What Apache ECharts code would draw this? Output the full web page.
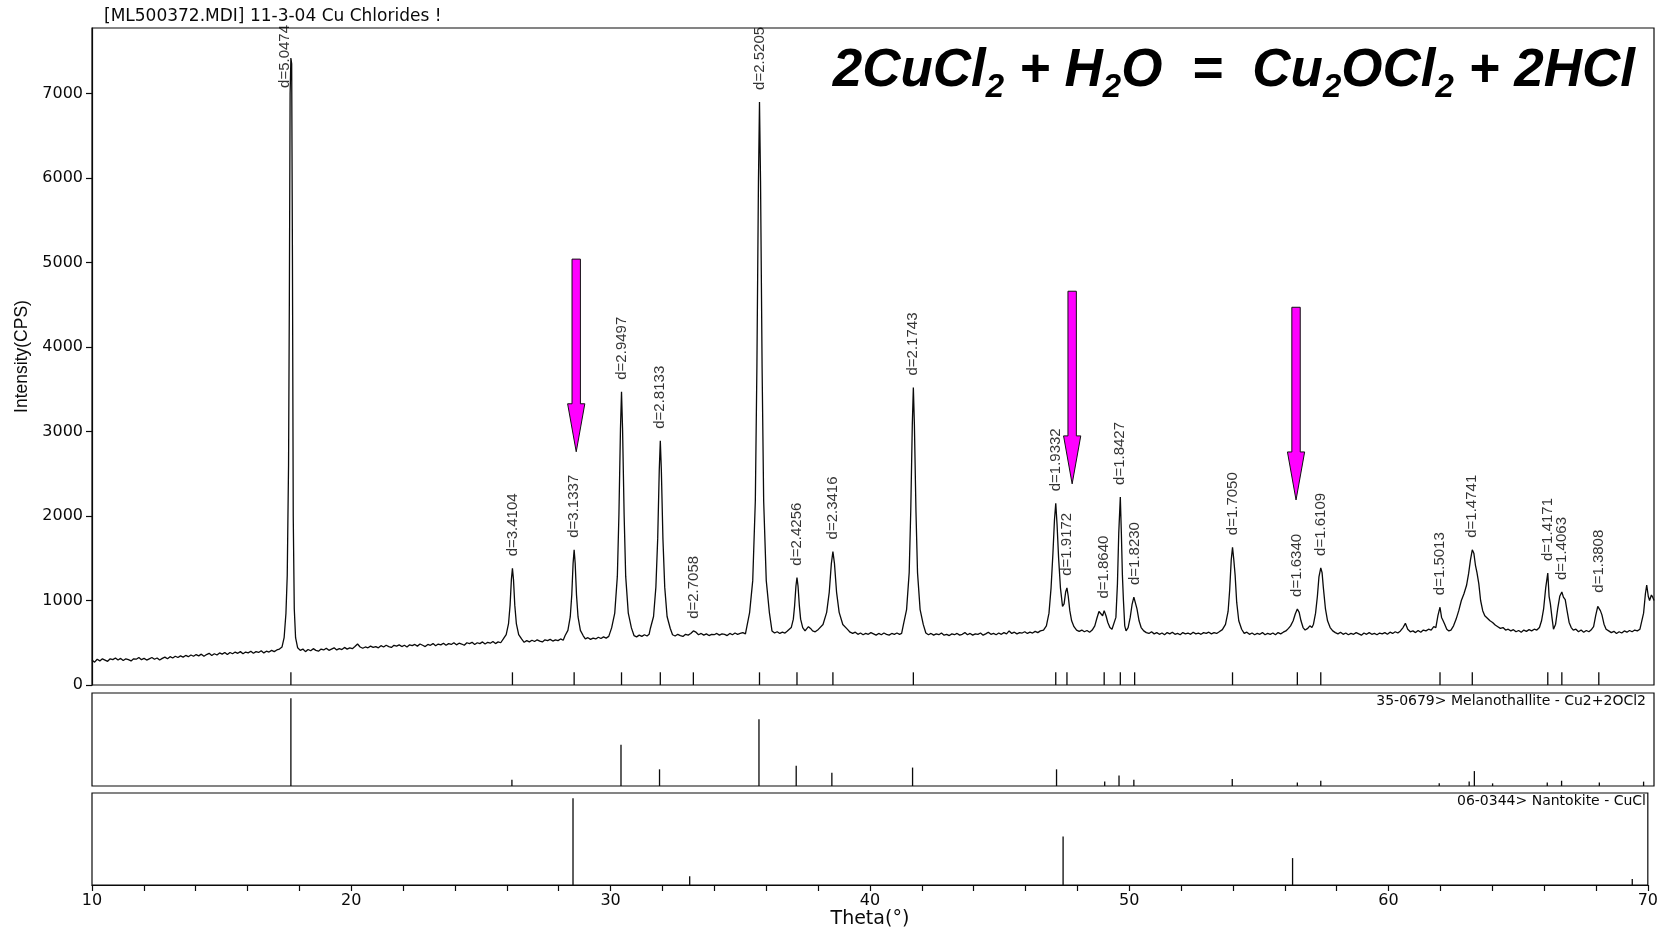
<!DOCTYPE html>
<html>
<head>
<meta charset="utf-8">
<script src="https://cdn.jsdelivr.net/npm/echarts@6/dist/echarts.min.js"></script>
<style>
html,body{margin:0;padding:0;background:#fff;}
#chart{width:1661px;height:930px;}
</style>
</head>
<body>
<div id="chart"></div>
<script>
// ---------------- DATA ----------------
const titleText = '[ML500372.MDI] 11-3-04 Cu Chlorides !';
const yTicks = [0, 1000, 2000, 3000, 4000, 5000, 6000, 7000];
const xTickLabels = [10, 20, 30, 40, 50, 60, 70];

// measured pattern: [2-theta, counts]
const spectrum = [
[10.0,295],[10.1,270],[10.2,305],[10.3,285],[10.4,310],[10.5,295],[10.6,280],[10.7,310],[10.8,300],[10.9,320],
[11.0,295],[11.1,315],[11.2,290],[11.3,310],[11.4,300],[11.5,285],[11.6,310],[11.7,305],[11.8,325],[11.9,300],
[12.0,315],[12.1,295],[12.2,310],[12.3,325],[12.4,305],[12.5,320],[12.6,295],[12.7,315],[12.8,330],[12.9,310],
[13.0,335],[13.1,320],[13.2,340],[13.3,325],[13.4,345],[13.5,330],[13.6,350],[13.7,335],[13.8,355],[13.9,340],
[14.0,360],[14.1,345],[14.2,365],[14.3,340],[14.4,360],[14.5,375],[14.6,350],[14.7,370],[14.8,355],[14.9,380],
[15.0,365],[15.1,385],[15.2,360],[15.3,385],[15.4,370],[15.5,390],[15.6,375],[15.7,395],[15.8,370],[15.9,390],
[16.0,380],[16.1,400],[16.2,375],[16.3,395],[16.4,385],[16.5,405],[16.6,380],[16.7,400],[16.8,390],[16.9,410],
[17.0,395],[17.1,415],[17.2,425],[17.3,450],[17.38,560],[17.45,850],[17.5,1300],[17.55,2600],[17.58,4500],[17.61,7000],
[17.64,7420],[17.67,7350],[17.7,5000],[17.73,2000],[17.77,900],[17.82,560],[17.9,440],
[18.0,410],[18.1,425],[18.2,395],[18.3,420],[18.4,405],[18.5,430],[18.6,410],[18.7,400],[18.8,425],[18.9,415],
[19.0,435],[19.1,410],[19.2,425],[19.3,440],[19.4,415],[19.5,430],[19.6,420],[19.7,445],[19.8,425],[19.9,440],
[20.0,430],[20.1,455],[20.2,485],[20.3,450],[20.4,435],[20.5,450],[20.6,440],[20.7,460],[20.8,445],[20.9,455],
[21.0,440],[21.1,465],[21.2,450],[21.3,470],[21.4,455],[21.5,445],[21.6,470],[21.7,460],[21.8,475],[21.9,455],
[22.0,470],[22.1,450],[22.2,475],[22.3,465],[22.4,480],[22.5,460],[22.6,485],[22.7,470],[22.8,455],[22.9,480],
[23.0,470],[23.1,490],[23.2,465],[23.3,485],[23.4,475],[23.5,495],[23.6,470],[23.7,490],[23.8,480],[23.9,500],
[24.0,475],[24.1,495],[24.2,485],[24.3,470],[24.4,500],[24.5,490],[24.6,505],[24.7,480],[24.8,500],[24.9,490],
[25.0,510],[25.1,485],[25.2,505],[25.3,495],[25.4,515],[25.5,490],[25.6,510],[25.7,500],[25.8,545],
[25.91,597],[26.0,727],[26.06,945],[26.11,1250],[26.15,1380],[26.19,1250],[26.24,945],[26.3,727],[26.39,597],[26.5,545],
[26.6,505],[26.7,525],[26.8,510],[26.9,530],[27.0,515],[27.1,535],[27.2,520],[27.3,510],[27.4,535],[27.5,525],
[27.6,540],[27.7,520],[27.8,535],[27.9,525],[28.0,545],[28.1,530],
[28.17,582],[28.28,646],[28.37,805],[28.43,1070],[28.48,1440],[28.52,1600],[28.56,1440],[28.61,1070],[28.67,805],[28.76,646],[28.87,582],
[28.95,545],[29.05,560],[29.15,540],[29.25,555],[29.35,545],[29.45,565],[29.55,550],[29.65,570],[29.75,555],[29.85,575],
[29.96,676],[30.08,851],[30.18,1288],[30.24,2015],[30.3,3034],[30.34,3470],[30.38,3034],[30.44,2015],[30.5,1288],[30.6,851],[30.72,676],
[30.82,585],[30.92,570],[31.02,590],[31.12,575],[31.22,595],[31.32,580],[31.4,600],
[31.45,672],[31.57,811],[31.66,1158],[31.73,1735],[31.79,2544],[31.83,2890],[31.87,2544],[31.93,1735],[32.0,1158],[32.09,811],[32.21,672],
[32.3,595],[32.4,580],[32.5,600],[32.6,585],[32.7,575],[32.8,600],[32.9,590],[33.0,610],[33.1,640],[33.2,625],
[33.3,595],[33.4,610],[33.5,590],[33.6,605],[33.7,585],[33.8,600],[33.9,595],[34.0,610],[34.1,590],[34.2,605],
[34.3,600],[34.4,585],[34.5,610],[34.6,595],[34.7,615],[34.8,600],[34.9,610],[35.0,620],[35.1,605],
[35.26,857],[35.38,1235],[35.48,2180],[35.54,3755],[35.6,5960],[35.64,6900],[35.68,5960],[35.74,3755],[35.8,2180],[35.9,1235],[36.02,857],
[36.12,640],[36.22,615],[36.32,630],[36.42,610],[36.52,625],[36.62,615],[36.7,635],
[36.77,641],[36.86,680],[36.94,779],[36.99,943],[37.04,1172],[37.08,1270],[37.12,1172],[37.17,943],[37.22,779],[37.3,680],[37.39,641],
[37.45,665],[37.52,690],[37.6,670],[37.68,640],[37.78,630],
[37.9,658],[38.08,716],[38.22,860],[38.32,1100],[38.4,1436],[38.46,1580],[38.52,1436],[38.6,1100],[38.7,860],[38.84,716],[39.02,658],
[39.12,625],[39.22,610],[39.32,625],[39.42,600],[39.52,615],[39.62,595],[39.72,610],[39.82,600],[39.92,620],[40.02,605],
[40.12,590],[40.22,610],[40.32,595],[40.42,615],[40.52,600],[40.62,590],[40.72,610],[40.82,600],[40.92,615],[41.02,600],[41.1,610],
[41.17,717],[41.29,892],[41.39,1330],[41.45,2060],[41.51,3082],[41.55,3520],[41.59,3082],[41.65,2060],[41.71,1330],[41.81,892],[41.93,717],
[42.03,615],[42.13,595],[42.23,610],[42.33,590],[42.43,605],[42.53,595],[42.63,615],[42.73,590],[42.83,600],[42.93,585],
[43.03,605],[43.13,595],[43.23,610],[43.33,590],[43.43,600],[43.53,620],[43.63,595],[43.73,610],[43.83,590],[43.93,605],
[44.03,600],[44.13,615],[44.23,590],[44.33,605],[44.43,625],[44.53,600],[44.63,610],[44.73,595],[44.83,615],[44.93,600],
[45.03,620],[45.13,605],[45.23,640],[45.33,610],[45.43,625],[45.53,605],[45.63,620],[45.73,615],[45.83,630],[45.93,610],
[46.03,625],[46.13,615],[46.23,635],[46.33,620],[46.43,640],
[46.55,650],[46.66,700],[46.76,850],[46.84,1150],[46.91,1550],[46.97,1950],[47.02,2150],[47.07,1900],[47.13,1500],[47.2,1150],
[47.28,930],[47.34,960],[47.4,1100],[47.45,1150],[47.5,1050],[47.56,880],[47.63,760],[47.72,690],[47.82,650],[47.92,635],
[48.02,650],[48.12,630],[48.22,645],[48.32,625],[48.42,650],[48.52,700],[48.6,790],[48.68,870],[48.75,850],[48.82,820],
[48.88,880],[48.95,820],[49.02,740],[49.1,680],[49.18,660],
[49.25,670],[49.33,800],[49.39,1200],[49.44,1800],[49.5,2225],[49.54,1800],[49.58,1300],[49.62,1000],[49.67,700],[49.72,640],
[49.8,680],[49.88,800],[49.95,950],[50.02,1040],[50.08,1020],[50.14,900],[50.22,760],[50.3,680],[50.4,640],[50.5,620],
[50.6,610],[50.7,630],[50.8,605],[50.9,620],[51.0,600],[51.1,615],[51.2,595],[51.3,620],[51.4,605],[51.5,625],
[51.6,600],[51.7,610],[51.8,595],[51.9,620],[52.0,605],[52.1,615],[52.2,600],[52.3,625],[52.4,605],[52.5,615],
[52.6,600],[52.7,620],[52.8,610],[52.9,625],[53.0,605],[53.1,620],[53.2,610],[53.3,630],
[53.42,655],[53.54,717],[53.64,870],[53.7,1122],[53.76,1478],[53.81,1630],[53.86,1480],[53.91,1300],[53.97,980],[54.05,760],[54.16,660],
[54.26,610],[54.36,625],[54.46,600],[54.56,615],[54.66,595],[54.76,610],[54.86,600],[54.96,620],[55.06,595],[55.16,610],
[55.26,600],[55.36,615],[55.46,595],[55.56,620],[55.66,605],[55.76,625],[55.86,640],[55.96,670],
[56.04,700],[56.14,760],[56.22,840],[56.3,900],[56.37,860],[56.44,760],[56.52,680],[56.6,650],[56.7,670],[56.78,700],[56.86,680],
[56.92,720],[57.0,850],[57.07,1050],[57.13,1280],[57.2,1385],[57.25,1330],[57.3,1150],[57.38,900],[57.46,760],[57.56,680],[57.66,640],
[57.76,620],[57.86,605],[57.96,625],[58.06,600],[58.16,615],[58.26,595],[58.36,610],[58.46,600],[58.56,620],[58.66,605],
[58.76,590],[58.86,615],[58.96,600],[59.06,620],[59.16,600],[59.26,610],[59.36,595],[59.46,615],[59.56,605],[59.66,620],
[59.76,600],[59.86,625],[59.96,610],[60.06,630],[60.16,615],[60.26,640],[60.36,680],[60.45,730],[60.54,660],[60.64,630],
[60.74,640],[60.84,620],[60.94,645],[61.04,625],[61.14,650],[61.24,640],[61.34,660],[61.44,650],[61.54,690],
[61.62,680],[61.7,820],[61.78,920],[61.84,800],[61.9,760],[61.96,720],[62.04,660],[62.12,640],[62.2,650],
[62.3,700],[62.4,780],[62.5,880],[62.6,1000],[62.7,1080],[62.8,1180],[62.88,1320],[62.95,1480],[63.02,1600],[63.08,1560],
[63.14,1420],[63.2,1330],[63.27,1200],[63.34,1000],[63.42,880],[63.5,820],[63.6,790],[63.7,760],[63.8,740],[63.9,710],
[64.0,690],[64.1,670],[64.2,680],[64.3,650],[64.4,660],[64.5,640],[64.6,655],[64.7,630],[64.8,645],[64.9,625],
[65.0,650],[65.1,635],[65.2,655],[65.3,640],[65.4,660],[65.5,650],[65.6,680],[65.68,760],
[65.76,900],[65.84,1150],[65.92,1325],[65.97,1050],[66.02,960],[66.08,800],[66.14,660],[66.22,720],[66.3,900],[66.38,1050],
[66.46,1100],[66.52,1040],[66.59,1010],[66.66,880],[66.74,740],[66.82,680],[66.9,650],[67.0,660],[67.1,630],[67.2,650],
[67.3,625],[67.4,645],[67.5,630],[67.58,650],[67.68,690],[67.76,820],[67.84,930],[67.88,950],[67.94,880],[68.0,830],
[68.08,720],[68.16,660],[68.26,640],[68.36,620],[68.46,635],[68.56,610],[68.66,630],[68.76,615],[68.86,640],[68.96,625],
[69.06,645],[69.16,630],[69.26,650],[69.36,640],[69.46,660],[69.53,680],[69.6,850],[69.67,1080],[69.72,1183],[69.78,1050],
[69.83,1000],[69.9,1065],[69.95,1040],[70.0,1000]
];

// labelled peaks
const peakTheta = [17.64, 26.15, 28.52, 30.34, 31.83, 33.1, 35.64, 37.08, 38.46, 41.55, 47.02, 47.45, 48.88, 49.5, 50.05, 53.81, 56.3, 57.2, 61.78, 63.02, 65.92, 66.46, 67.88];
const peakTop   = [7420, 1380, 1600, 3470, 2890, 640, 6900, 1270, 1580, 3520, 2150, 1150, 880, 2225, 1040, 1630, 900, 1385, 920, 1600, 1325, 1100, 950];
const peakD     = ['d=5.0474','d=3.4104','d=3.1337','d=2.9497','d=2.8133','d=2.7058','d=2.5205','d=2.4256','d=2.3416','d=2.1743','d=1.9332','d=1.9172','d=1.8640','d=1.8427','d=1.8230','d=1.7050','d=1.6340','d=1.6109','d=1.5013','d=1.4741','d=1.4171','d=1.4063','d=1.3808'];
const peakMarkHeight = 150;

// reference card 35-0679 Melanothallite (relative intensity %)
const melanoLabel = '35-0679> Melanothallite - Cu2+2OCl2';
const melanoTheta = [17.64, 26.13, 30.32, 31.8, 35.62, 37.05, 38.42, 41.52, 47.05, 48.9, 49.45, 50.02, 53.8, 56.3, 57.2, 61.75, 62.9, 63.1, 63.8, 65.9, 66.45, 67.9, 69.6];
const melanoRel   = [100, 7, 47, 19, 76, 23, 15, 21, 19, 5, 12, 7, 8, 4, 6, 3, 5, 17, 3, 4, 6, 4, 5];

// reference card 06-0344 Nantokite (relative intensity %)
const nantoLabel = '06-0344> Nantokite - CuCl';
const nantoTheta = [28.55, 33.05, 47.45, 56.3, 69.4];
const nantoRel   = [100, 10, 56, 31, 7];

// highlight arrows: [2-theta, top counts, tip counts]
const arrowTheta = [28.6, 47.65, 56.25];
const arrowFrom  = [5040, 4660, 4470];
const arrowTo    = [2760, 2380, 2190];

// ---------------- CHART ----------------
const chart = echarts.init(document.getElementById('chart'), null, {renderer: 'canvas'});
const INK = '#0a0a0a';
const FONT = 'DejaVu Sans';

function stickRender(params, api) {
  const a = api.coord([api.value(0), 0]);
  const b = api.coord([api.value(0), api.value(1)]);
  return {type: 'line', shape: {x1: a[0], y1: a[1], x2: b[0], y2: b[1]},
          style: {stroke: INK, lineWidth: 1.3}};
}
function arrowRender(params, api) {
  const top = api.coord([api.value(0), api.value(1)]);
  const tip = api.coord([api.value(0), api.value(2)]);
  const x = tip[0], hs = 4.2, hh = 8.6, hl = 48;
  const hy = tip[1] - hl;
  return {type: 'polygon',
          shape: {points: [[x - hs, top[1]], [x + hs, top[1]], [x + hs, hy], [x + hh, hy], [x, tip[1]], [x - hh, hy], [x - hs, hy]]},
          style: {fill: '#ff00ff', stroke: '#111', lineWidth: 1}};
}

const grids = [
  {left: 92, right: 7, top: 28, height: 657},
  {left: 92, right: 7, top: 693, height: 93},
  {left: 92, right: 7, top: 793, height: 92}
].map(g => Object.assign({show: true, borderColor: INK, borderWidth: 1.2, backgroundColor: 'transparent'}, g));

const hiddenX = i => ({type: 'value', gridIndex: i, min: 10, max: 70, axisLine: {show: false},
  axisTick: {show: false}, axisLabel: {show: false}, splitLine: {show: false}});

const peakLabelData = peakTheta.map((t, i) => {
  const item = {value: [t, peakTop[i]]};
  if (i === 0) item.label = {position: [-6, 30]};
  return item;
});

const option = {
  animation: false,
  backgroundColor: '#fff',
  grid: grids,
  xAxis: [
    hiddenX(0), hiddenX(1),
    {type: 'value', gridIndex: 2, min: 10, max: 70, interval: 2,
     axisLine: {show: true, lineStyle: {color: INK, width: 1.2}},
     axisTick: {show: true, inside: false, length: 6, lineStyle: {color: INK, width: 1.2}},
     axisLabel: {show: true, margin: 8, color: INK, fontFamily: FONT, fontSize: 16,
                 formatter: v => (xTickLabels.indexOf(v) >= 0 ? String(v) : '')},
     splitLine: {show: false},
     name: 'Theta(°)', nameLocation: 'middle', nameGap: 25,
     nameTextStyle: {color: INK, fontFamily: FONT, fontSize: 19}}
  ],
  yAxis: [
    {type: 'value', gridIndex: 0, min: 0, max: 7775, interval: 1000,
     axisLine: {show: true, lineStyle: {color: INK, width: 1.2}},
     axisTick: {show: true, length: 6, lineStyle: {color: INK, width: 1.2}, customValues: yTicks},
     axisLabel: {show: true, margin: 9, color: INK, fontFamily: FONT, fontSize: 16, customValues: yTicks,
                 formatter: v => String(v)},
     splitLine: {show: false},
     name: 'Intensity(CPS)', nameLocation: 'middle', nameRotate: 90, nameGap: 61,
     nameTextStyle: {color: INK, fontFamily: 'Liberation Sans', fontSize: 17.5}},
    {type: 'value', gridIndex: 1, min: 0, max: 106, show: false, splitLine: {show: false}},
    {type: 'value', gridIndex: 2, min: 0, max: 106, show: false, splitLine: {show: false}}
  ],
  series: [
    {type: 'line', name: 'pattern', xAxisIndex: 0, yAxisIndex: 0, data: spectrum,
     showSymbol: false, symbol: 'none', sampling: false, smooth: false,
     lineStyle: {color: INK, width: 1.3}, z: 3},
    {type: 'custom', name: 'peak markers', xAxisIndex: 0, yAxisIndex: 0,
     data: peakTheta.map(t => [t, peakMarkHeight]), renderItem: stickRender, z: 2},
    {type: 'scatter', name: 'peak labels', xAxisIndex: 0, yAxisIndex: 0,
     data: peakLabelData, symbolSize: 0.1, itemStyle: {color: 'transparent'},
     label: {show: true, position: 'top', distance: 12, rotate: 90, align: 'left', verticalAlign: 'middle',
             color: '#000', fontFamily: 'Liberation Sans', fontSize: 15,
             formatter: p => peakD[p.dataIndex]}, z: 4},
    {type: 'custom', name: 'arrows', xAxisIndex: 0, yAxisIndex: 0,
     data: arrowTheta.map((t, i) => [t, arrowFrom[i], arrowTo[i]]), renderItem: arrowRender, z: 10},
    {type: 'custom', name: 'Melanothallite', xAxisIndex: 1, yAxisIndex: 1,
     data: melanoTheta.map((t, i) => [t, melanoRel[i]]), renderItem: stickRender},
    {type: 'custom', name: 'Nantokite', xAxisIndex: 2, yAxisIndex: 2,
     data: nantoTheta.map((t, i) => [t, nantoRel[i]]), renderItem: stickRender}
  ],
  graphic: [
    {type: 'text', left: 104, top: 8,
     style: {text: titleText, fill: INK, font: '17px "DejaVu Sans"'}},
    {type: 'text', right: 15, top: 694,
     style: {text: melanoLabel, fill: INK, font: '14px "DejaVu Sans"'}},
    {type: 'text', right: 15, top: 794,
     style: {text: nantoLabel, fill: INK, font: '14px "DejaVu Sans"'}},
    {type: 'text', right: 26, top: 45, z: 20,
     style: {
       text: '{m|2CuCl}{s|2}{m| + H}{s|2}{m|O  =  Cu}{s|2}{m|OCl}{s|2}{m| + 2HCl}',
       fill: '#000',
       rich: {
         m: {fontSize: 53, fontWeight: 'bold', fontStyle: 'italic', fontFamily: 'Liberation Sans', lineHeight: 66, fill: '#000'},
         s: {fontSize: 33, fontWeight: 'bold', fontStyle: 'italic', fontFamily: 'Liberation Sans', lineHeight: 33, verticalAlign: 'bottom', fill: '#000'}
       }
     }}
  ]
};
chart.setOption(option);
</script>
</body>
</html>
